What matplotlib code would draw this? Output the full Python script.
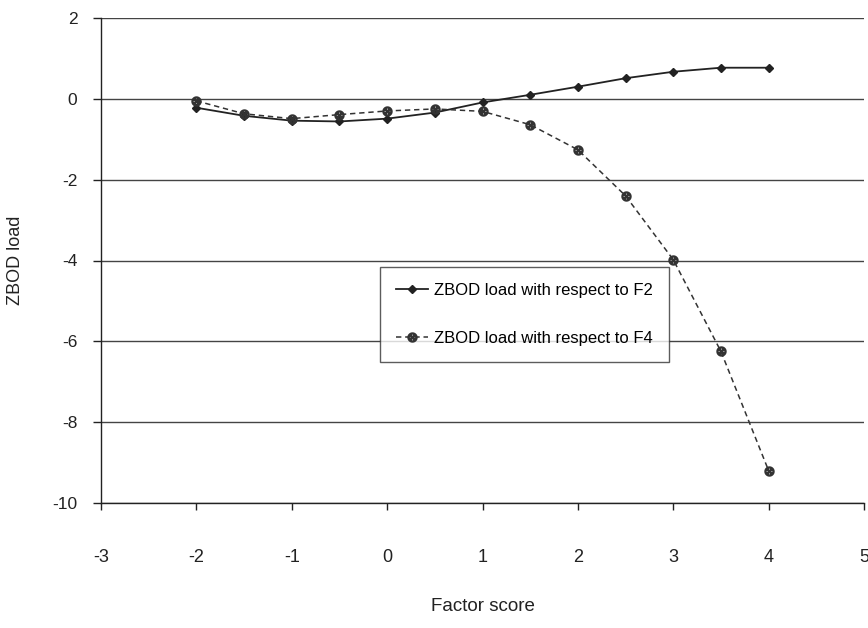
import matplotlib
matplotlib.use("Agg")
import matplotlib.pyplot as plt

# factor scores and ZBOD load
factor_score = [-2, -1.5, -1, -0.5, 0, 0.5, 1, 1.5, 2, 2.5, 3, 3.5, 4]
zbod_f2 = [-0.22, -0.42, -0.54, -0.56, -0.49, -0.34, -0.09, 0.10, 0.30, 0.51, 0.67, 0.77, 0.77]
zbod_f4 = [-0.05, -0.37, -0.49, -0.39, -0.30, -0.25, -0.31, -0.64, -1.26, -2.40, -3.98, -6.25, -9.20]

x_ticks = [-3, -2, -1, 0, 1, 2, 3, 4, 5]
y_ticks = [-10, -8, -6, -4, -2, 0, 2]

plt.rcParams['font.family'] = ['Liberation Sans', 'DejaVu Sans']

fig = plt.figure(figsize=(8.68, 6.28), dpi=100)
ax = fig.add_axes([101 / 868, 1 - 503 / 628, (864 - 101) / 868, (503 - 18) / 628])

ax.plot(factor_score, zbod_f2, color='#222222', lw=1.3, marker='D', markersize=4.5,
        label='ZBOD load with respect to F2')
ax.plot(factor_score, zbod_f4, color='#333333', lw=1.1, linestyle=(0, (3.5, 2.5)),
        marker=r'$\otimes$', markersize=6.5, label='ZBOD load with respect to F4')

ax.set_xlim(-3, 5)
ax.set_ylim(-10, 2)
ax.set_xticks(x_ticks)
ax.set_yticks(y_ticks)
ax.set_yticklabels([str(v) for v in y_ticks])
ax.set_xticklabels([str(v) for v in x_ticks])

ax.yaxis.grid(True, color='#444444', lw=1)
ax.set_axisbelow(True)
ax.spines['top'].set_visible(False)
ax.spines['right'].set_visible(False)
for s in ['left', 'bottom']:
    ax.spines[s].set_color('#222222')
    ax.spines[s].set_linewidth(1)

ax.tick_params(axis='y', direction='out', length=6, width=1, pad=11, labelsize=12.5, colors='#222222')
ax.tick_params(axis='x', direction='out', length=5, width=1, pad=28, labelsize=13, colors='#222222')

ax.set_xlabel('Factor score', fontsize=13.5, labelpad=23, color='#222222')
ax.set_ylabel('ZBOD load', fontsize=13, labelpad=20, color='#222222')

leg = ax.legend(loc='upper left', bbox_to_anchor=(380 / 868, 1 - 267 / 628),
                bbox_transform=fig.transFigure, fontsize=12, frameon=True,
                fancybox=False, shadow=False, handlelength=1.9, handletextpad=0.4,
                labelspacing=2.0, borderpad=0.95, borderaxespad=0)
leg.get_frame().set_edgecolor('#333333')
leg.get_frame().set_linewidth(1)

fig.savefig('out.png', dpi=100)
